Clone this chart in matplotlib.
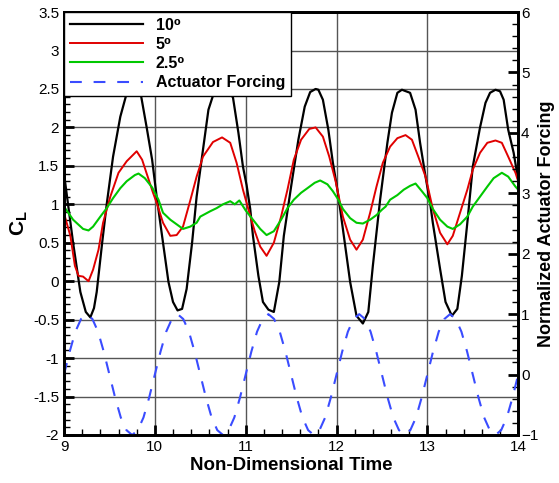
import numpy as np
import matplotlib
matplotlib.use('Agg')
import matplotlib.pyplot as plt
from matplotlib.ticker import MultipleLocator

plt.rcParams['font.family'] = ['Liberation Sans', 'DejaVu Sans']
plt.rcParams['mathtext.fontset'] = 'custom'
plt.rcParams['mathtext.rm'] = 'Liberation Sans'
plt.rcParams['lines.scale_dashes'] = False

# 10 deg
t_10 = [9.0, 9.05, 9.1, 9.18, 9.24, 9.29, 9.33, 9.36, 9.42, 9.47, 9.54, 9.62, 9.68, 9.75, 9.8,
        9.85, 9.91, 9.97, 10.02, 10.09, 10.15, 10.2, 10.25, 10.3, 10.35, 10.41, 10.46, 10.53,
        10.59, 10.65, 10.72, 10.8, 10.86, 10.92, 10.97, 11.01, 11.05, 11.08, 11.14, 11.19, 11.25,
        11.31, 11.37, 11.42, 11.5, 11.58, 11.65, 11.71, 11.77, 11.8, 11.85, 11.91, 11.96, 12.01,
        12.07, 12.15, 12.22, 12.29, 12.35, 12.4, 12.48, 12.56, 12.61, 12.67, 12.72, 12.81, 12.87,
        12.92, 12.98, 13.03, 13.06, 13.14, 13.2, 13.27, 13.33, 13.38, 13.44, 13.5, 13.58, 13.64,
        13.69, 13.75, 13.8, 13.84, 13.89, 13.95, 14.0]
cl_10 = [1.4, 0.95, 0.5, -0.14, -0.4, -0.47, -0.35, -0.14, 0.5, 1.0, 1.62, 2.14, 2.4, 2.5, 2.52,
         2.4, 2.0, 1.58, 1.1, 0.5, -0.01, -0.27, -0.38, -0.36, -0.1, 0.5, 1.1, 1.71,
         2.23, 2.45, 2.5, 2.48, 2.39, 1.93, 1.49, 1.25, 0.94, 0.59, 0.07, -0.27, -0.37,
         -0.4, -0.01, 0.59, 1.23, 1.84, 2.27, 2.46, 2.5, 2.49, 2.36, 1.97, 1.54, 1.19,
         0.68, -0.01, -0.45, -0.55, -0.4, 0.2, 1.06, 1.8, 2.19, 2.45, 2.49, 2.45, 2.23,
         1.8, 1.36, 1.02, 0.76, 0.16, -0.27, -0.45, -0.36, 0.07, 0.76, 1.49, 2.0, 2.32,
         2.45, 2.49, 2.47, 2.36, 1.97, 1.67, 1.32]

# 5 deg
t_5 = [9.0, 9.01, 9.07, 9.12, 9.16, 9.21, 9.27, 9.32, 9.38, 9.43, 9.51, 9.6, 9.69, 9.8, 9.86,
       9.91, 9.98, 10.02, 10.09, 10.17, 10.24, 10.31, 10.39, 10.46, 10.53, 10.64, 10.74, 10.83,
       10.9, 10.97, 11.05, 11.1, 11.16, 11.23, 11.31, 11.39, 11.46, 11.53, 11.61, 11.7, 11.77,
       11.85, 11.92, 11.99, 12.07, 12.15, 12.22, 12.29, 12.37, 12.44, 12.51, 12.59, 12.67, 12.76,
       12.83, 12.9, 12.98, 13.06, 13.14, 13.22, 13.28, 13.36, 13.44, 13.5, 13.58, 13.66, 13.75,
       13.82, 13.89, 13.97, 14.0]
cl_5 = [0.88, 0.84, 0.59, 0.2, 0.07, 0.06, 0.0, 0.15, 0.41, 0.76, 1.1, 1.41, 1.56, 1.69, 1.58,
        1.4, 1.15, 1.02, 0.76, 0.59, 0.6, 0.71, 1.05, 1.36, 1.62, 1.81, 1.87, 1.8,
        1.54, 1.19, 0.85, 0.65, 0.45, 0.33, 0.5, 0.84, 1.19, 1.58, 1.84, 1.98, 2.0,
        1.88, 1.62, 1.3, 0.84, 0.54, 0.41, 0.54, 0.89, 1.23, 1.54, 1.75, 1.86, 1.9,
        1.84, 1.62, 1.36, 0.94, 0.63, 0.48, 0.59, 0.89, 1.19, 1.45, 1.67, 1.8, 1.83,
        1.8, 1.62, 1.41, 1.3]

# 2.5 deg
t_25 = [9.0, 9.1, 9.21, 9.27, 9.32, 9.4, 9.47, 9.54, 9.62, 9.69, 9.78, 9.82, 9.89, 9.97, 10.04,
        10.09, 10.17, 10.24, 10.31, 10.39, 10.46, 10.5, 10.61, 10.68, 10.75, 10.83, 10.88, 10.93,
        11.0, 11.08, 11.16, 11.23, 11.31, 11.39, 11.46, 11.53, 11.61, 11.68, 11.76, 11.82, 11.9,
        11.96, 12.02, 12.07, 12.15, 12.22, 12.29, 12.37, 12.44, 12.5, 12.54, 12.59, 12.67, 12.74,
        12.81, 12.87, 12.94, 13.0, 13.06, 13.14, 13.22, 13.28, 13.36, 13.44, 13.5, 13.58, 13.66,
        13.73, 13.82, 13.89, 13.97, 14.0]
cl_25 = [0.97, 0.8, 0.68, 0.66, 0.71, 0.84, 0.95, 1.08, 1.21, 1.3, 1.38, 1.4, 1.34, 1.22, 1.06,
         0.89, 0.8, 0.74, 0.68, 0.71, 0.76, 0.84, 0.91, 0.95, 1.0, 1.04, 1.0, 1.05,
         0.92, 0.8, 0.68, 0.6, 0.65, 0.8, 0.95, 1.06, 1.15, 1.21, 1.28, 1.31, 1.26,
         1.17, 1.06, 0.94, 0.82, 0.76, 0.75, 0.8, 0.86, 0.93, 0.97, 1.06, 1.12, 1.19,
         1.24, 1.27, 1.17, 1.08, 0.94, 0.8, 0.71, 0.68, 0.74, 0.84, 0.97, 1.1, 1.23,
         1.34, 1.41, 1.36, 1.23, 1.19]

# actuator forcing (right axis), sampled every 1/16 time unit
forcing = [0, .38, .71, .92, 1, .92, .71, .38, 0, -.38, -.71, -.92, -1, -.92, -.71, -.38,
           0, .38, .71, .92, 1, .92, .71, .38, 0, -.38, -.71, -.92, -1, -.92, -.71, -.38,
           0, .38, .71, .92, 1, .92, .71, .38, 0, -.38, -.71, -.92, -1, -.92, -.71, -.38,
           0, .38, .71, .92, 1, .92, .71, .38, 0, -.38, -.71, -.92, -1, -.92, -.71, -.38,
           0, .38, .71, .92, 1, .92, .71, .38, 0, -.38, -.71, -.92, -1, -.92, -.71, -.38,
           0]
t_force = 9 + np.arange(len(forcing)) / 16

fig = plt.figure(figsize=(5.59, 4.83), dpi=100)
ax = fig.add_axes([0.1145, 0.0994, 0.8125, 0.8756])
ax2 = ax.twinx()

l1, = ax.plot(t_10, cl_10, color='black', lw=1.6, label='10\u2070')
l2, = ax.plot(t_5, cl_5, color='#e00000', lw=1.4, label='5\u2070')
l3, = ax.plot(t_25, cl_25, color='#00c800', lw=1.5, label='2.5\u2070')
l4, = ax2.plot(t_force, forcing, color='#3a4cff', lw=1.5, dashes=(8.5, 8.5),
               label='Actuator Forcing')

ax.set_xlim(9, 14)
ax.set_ylim(-2, 3.5)
ax2.set_ylim(-1, 6)
ax.xaxis.set_major_locator(MultipleLocator(1))
ax.xaxis.set_minor_locator(MultipleLocator(0.2))
ax.yaxis.set_major_locator(MultipleLocator(0.5))
ax.yaxis.set_minor_locator(MultipleLocator(0.1))
ax2.yaxis.set_major_locator(MultipleLocator(1))
ax2.yaxis.set_minor_locator(MultipleLocator(0.2))
ax.yaxis.set_major_formatter(plt.FuncFormatter(lambda v, p: f'{v:g}'))

ax.grid(True, which='major', color='#555555', lw=1.0)
ax.set_axisbelow(True)

for a in (ax, ax2):
    a.tick_params(which='both', direction='in', labelsize=11, top=False)
    a.tick_params(which='major', length=7, width=2)
    a.tick_params(which='minor', length=4, width=1)
    for s in a.spines.values():
        s.set_linewidth(2)
ax.tick_params(axis='y', right=False)
ax2.tick_params(axis='y', pad=2)

ax.set_xlabel('Non-Dimensional Time', fontsize=13.5, fontweight='bold', labelpad=2)
ax.set_ylabel(r'C$_{\mathregular{L}}$', fontsize=15, fontweight='bold', labelpad=2)
ax2.set_ylabel('Normalized Actuator Forcing', fontsize=13, fontweight='bold', labelpad=0)

leg = ax2.legend(handles=[l1, l2, l3, l4], loc='upper left', bbox_to_anchor=(0, 1),
                 borderaxespad=0, fancybox=False, framealpha=1, edgecolor='black',
                 prop={'weight': 'bold', 'size': 11.5}, handlelength=4.6,
                 handletextpad=0.8, labelspacing=0.26, borderpad=0.35)
leg.get_frame().set_linewidth(1)

fig.savefig('out.png', dpi=100)
